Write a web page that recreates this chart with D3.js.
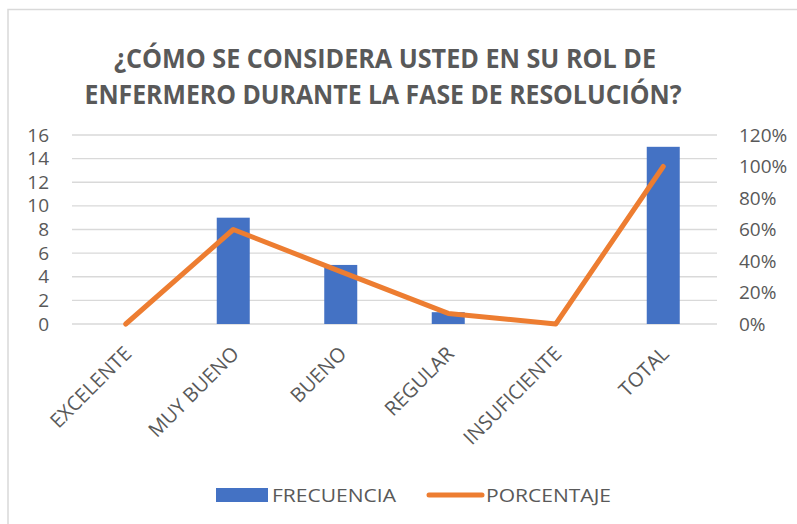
<!DOCTYPE html>
<html>
<head>
<meta charset="utf-8">
<script src="https://cdn.jsdelivr.net/npm/d3@7"></script>
<style>
  body { margin: 0; background: #fff; }
  svg { display: block; }
</style>
</head>
<body>
<div id="chart"></div>
<script>
const width = 797;
const height = 524;

// data
const titleLines = ["¿CÓMO SE CONSIDERA USTED EN SU ROL DE", "ENFERMERO DURANTE LA FASE DE RESOLUCIÓN?"];
const categories = ["EXCELENTE", "MUY BUENO", "BUENO", "REGULAR", "INSUFICIENTE", "TOTAL"];
const frecuencia = [0, 9, 5, 1, 0, 15];
const porcentaje = [0, 0.60, 0.333, 0.067, 0, 1.00];
const leftTicks = [0, 2, 4, 6, 8, 10, 12, 14, 16];
const rightTicks = [0, 0.2, 0.4, 0.6, 0.8, 1.0, 1.2];
const seriesNames = ["FRECUENCIA", "PORCENTAJE"];

const blue = "#4472C4";
const orange = "#ED7D31";
const textGray = "#595959";
const font = "'Open Sans', 'Liberation Sans', sans-serif";

const plot = { left: 72, right: 717, top: 135, bottom: 324 };

const svg = d3.select("#chart").append("svg")
  .attr("width", width)
  .attr("height", height);

// chart frame (only top & left edges are inside the picture)
svg.append("rect")
  .attr("x", 8).attr("y", 9.5)
  .attr("width", 800).attr("height", 530)
  .attr("fill", "#fff")
  .attr("stroke", "#d9d9d9")
  .attr("stroke-width", 1.5);

// title
const titleWidths = [542, 597];
svg.append("g").selectAll("text")
  .data(titleLines)
  .enter()
  .append("text")
  .attr("x", function(d, i) { return i == 0 ? 385 - 271 : 383 - 298.5; })
  .attr("y", function(d, i) { return 68 + i * 36; })
  .attr("font-family", font)
  .attr("font-weight", "bold")
  .attr("font-size", "26px")
  .attr("fill", textGray)
  .attr("textLength", function(d, i) { return titleWidths[i]; })
  .attr("lengthAdjust", "spacingAndGlyphs")
  .text(function(d) { return d; });

// scales
const x = d3.scaleBand()
  .domain(categories)
  .range([plot.left, plot.right]);
const yLeft = d3.scaleLinear()
  .domain([0, 16])
  .range([plot.bottom, plot.top]);
const yRight = d3.scaleLinear()
  .domain([0, 1.2])
  .range([plot.bottom, plot.top]);

// gridlines
svg.append("g").selectAll("line")
  .data(leftTicks)
  .enter()
  .append("line")
  .attr("x1", plot.left).attr("x2", plot.right)
  .attr("y1", function(d) { return yLeft(d); })
  .attr("y2", function(d) { return yLeft(d); })
  .attr("stroke", "#d9d9d9")
  .attr("stroke-width", 1.3);

// axes
const leftAxis = svg.append("g")
  .attr("transform", "translate(" + (plot.left - 23) + ",0)")
  .call(d3.axisLeft(yLeft).tickValues(leftTicks).tickSize(0).tickPadding(0));
const rightAxis = svg.append("g")
  .attr("transform", "translate(" + (plot.right + 22) + ",0)")
  .call(d3.axisRight(yRight).tickValues(rightTicks).tickSize(0).tickPadding(0)
    .tickFormat(d3.format(".0%")));
[leftAxis, rightAxis].forEach(function(a) {
  a.select(".domain").remove();
  a.selectAll("text")
    .attr("font-family", font)
    .attr("font-size", "19px")
    .attr("fill", textGray);
});

// bars
const barW = 33;
svg.append("g").selectAll("rect")
  .data(frecuencia)
  .enter()
  .append("rect")
  .attr("x", function(d, i) { return x(categories[i]) + x.bandwidth() / 2 - barW / 2; })
  .attr("y", function(d) { return yLeft(d); })
  .attr("width", barW)
  .attr("height", function(d) { return yLeft(0) - yLeft(d); })
  .attr("fill", blue);

// line
const line = d3.line()
  .x(function(d, i) { return x(categories[i]) + x.bandwidth() / 2; })
  .y(function(d) { return yRight(d); });
svg.append("path")
  .datum(porcentaje)
  .attr("d", line)
  .attr("fill", "none")
  .attr("stroke", orange)
  .attr("stroke-width", 5)
  .attr("stroke-linecap", "round")
  .attr("stroke-linejoin", "round");

// category labels, rotated
svg.append("g").selectAll("text")
  .data(categories)
  .enter()
  .append("text")
  .attr("transform", function(d) {
    return "translate(" + (x(d) + x.bandwidth() / 2 + 7) + "," + (plot.bottom + 31) + ") rotate(-45)";
  })
  .attr("text-anchor", "end")
  .attr("font-family", font)
  .attr("font-size", "20px")
  .attr("fill", textGray)
  .text(function(d) { return d; });

// legend
const legend = svg.append("g");
legend.append("rect")
  .attr("x", 216).attr("y", 488)
  .attr("width", 52).attr("height", 14)
  .attr("fill", blue);
legend.append("text")
  .attr("x", 272).attr("y", 502)
  .attr("font-family", font)
  .attr("font-size", "19px")
  .attr("fill", textGray)
  .attr("textLength", 124)
  .attr("lengthAdjust", "spacingAndGlyphs")
  .text(seriesNames[0]);
legend.append("line")
  .attr("x1", 429).attr("x2", 482)
  .attr("y1", 495).attr("y2", 495)
  .attr("stroke", orange)
  .attr("stroke-width", 5)
  .attr("stroke-linecap", "round");
legend.append("text")
  .attr("x", 486).attr("y", 502)
  .attr("font-family", font)
  .attr("font-size", "19px")
  .attr("fill", textGray)
  .attr("textLength", 125)
  .attr("lengthAdjust", "spacingAndGlyphs")
  .text(seriesNames[1]);
</script>
</body>
</html>
